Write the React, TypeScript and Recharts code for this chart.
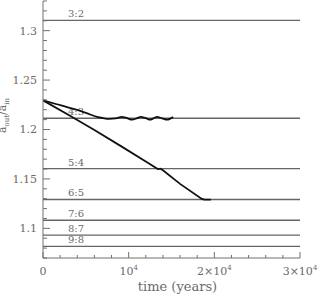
import { LineChart, Line, XAxis, YAxis, ReferenceLine } from "recharts";

// resonance locations (period ratio -> a_out/a_in)
const resonanceNames = ["3:2", "4:3", "5:4", "6:5", "7:6", "8:7", "9:8"];
const resonanceValues = [1.3104, 1.2114, 1.1604, 1.1292, 1.1082, 1.0931, 1.0817];

// run captured in 4:3
const upperTime = [0, 1500, 3000, 4500, 5500, 6300, 7000, 7700, 8500, 9200, 9800, 10400, 11000, 11400, 12000, 12500, 12900, 13300, 13900, 14500, 14900, 15200];
const upperRatio = [1.2295, 1.2258, 1.2222, 1.2183, 1.2152, 1.2128, 1.2116, 1.2108, 1.2112, 1.2127, 1.2115, 1.2099, 1.2115, 1.2127, 1.2115, 1.2099, 1.2113, 1.2127, 1.2113, 1.2099, 1.2112, 1.2125];

// run passing through 5:4 and captured in 6:5
const lowerTime = [0, 3000, 6000, 9000, 12000, 13400, 13700, 14000, 16000, 18500, 18800, 19600];
const lowerRatio = [1.2295, 1.2147, 1.1995, 1.1837, 1.1676, 1.16, 1.1604, 1.1587, 1.145, 1.13, 1.129, 1.129];

const xTicks = [0, 2000, 4000, 6000, 8000, 10000, 12000, 14000, 16000, 18000, 20000, 22000, 24000, 26000, 28000, 30000];
const yTicks = [1.07, 1.08, 1.09, 1.1, 1.11, 1.12, 1.13, 1.14, 1.15, 1.16, 1.17, 1.18, 1.19, 1.2, 1.21, 1.22, 1.23, 1.24, 1.25, 1.26, 1.27, 1.28, 1.29, 1.3, 1.31, 1.32, 1.33];

const upperData = upperTime.map((t, i) => ({ t, r: upperRatio[i] }));
const lowerData = lowerTime.map((t, i) => ({ t, r: lowerRatio[i] }));

const FONT = "'DejaVu Serif', serif";
const FRAME = "#707070";
const TEXT = "#6a6a6a";

const isMajorX = (v: number) => v % 10000 === 0;
const isMajorY = (v: number) => Math.round(v * 100) % 5 === 0;

function BottomTick({ x, y, payload }: any) {
  const v = payload.value;
  const major = isMajorX(v);
  let label: any = null;
  if (major) {
    const k = v / 10000;
    label = (
      <text x={x} y={y + 17} textAnchor="middle" fontFamily={FONT} fontSize={11} fill={TEXT}>
        {k === 0 ? "0" : k === 1 ? "10" : `${k}\u00d710`}
        {k > 0 && (
          <tspan dy={-5} fontSize={7}>
            4
          </tspan>
        )}
      </text>
    );
  }
  return (
    <g>
      <line x1={x} x2={x} y1={y} y2={y - (major ? 6 : 3)} stroke={FRAME} />
      {label}
    </g>
  );
}

function TopTick({ x, y, payload }: any) {
  const major = isMajorX(payload.value);
  return <line x1={x} x2={x} y1={y} y2={y + (major ? 6 : 3)} stroke={FRAME} />;
}

function LeftTick({ x, y, payload }: any) {
  const v = payload.value;
  const major = isMajorY(v);
  return (
    <g>
      <line x1={x} x2={x + (major ? 7 : 4)} y1={y} y2={y} stroke={FRAME} />
      {major && v < 1.33 && v > 1.07 && (
        <text x={x - 6} y={y} dy="0.35em" textAnchor="end" fontFamily={FONT} fontSize={11} fill={TEXT}>
          {String(Number(v.toFixed(2)))}
        </text>
      )}
    </g>
  );
}

function RightTick({ x, y, payload }: any) {
  const major = isMajorY(payload.value);
  return <line x1={x} x2={x - (major ? 7 : 4)} y1={y} y2={y} stroke={FRAME} />;
}

function YTitle({ viewBox }: any) {
  const cx = viewBox.x + 6;
  const cy = viewBox.y + viewBox.height / 2 - 14;
  return (
    <text x={cx} y={cy} transform={`rotate(-90 ${cx} ${cy})`} textAnchor="middle" fontFamily={FONT} fontSize={11} fill={TEXT}>
      a<tspan dy={3} fontSize={7}>out</tspan>
      <tspan dy={-3}>/a</tspan>
      <tspan dy={3} fontSize={7}>in</tspan>
    </text>
  );
}

function XTitle({ viewBox }: any) {
  return (
    <text x={viewBox.x + viewBox.width / 2 + 6} y={viewBox.y + 33} textAnchor="middle" fontFamily={FONT} fontSize={13} fill={TEXT}>
      time (years)
    </text>
  );
}

function ResonanceLabel(name: string) {
  return ({ viewBox }: any) => (
    <text x={viewBox.x + 25} y={viewBox.y - 3} fontFamily={FONT} fontSize={10} fill={TEXT}>
      {name}
    </text>
  );
}

export default function App() {
  return (
    <div style={{ position: "absolute", left: 0, top: 0, width: 319, height: 295, background: "#fff" }}>
      <LineChart width={319} height={295} margin={{ top: 1, right: 19, bottom: 0, left: 0 }}>
        <XAxis
          dataKey="t"
          type="number"
          domain={[0, 30000]}
          ticks={xTicks}
          interval={0}
          tickSize={0}
          tickMargin={0}
          height={37}
          stroke={FRAME}
          tick={<BottomTick />}
          label={<XTitle />}
          allowDataOverflow
        />
        <XAxis
          xAxisId="top"
          orientation="top"
          dataKey="t"
          type="number"
          domain={[0, 30000]}
          ticks={xTicks}
          interval={0}
          tickSize={0}
          tickMargin={0}
          height={0}
          stroke={FRAME}
          tick={<TopTick />}
          allowDataOverflow
        />
        <YAxis
          type="number"
          domain={[1.07, 1.33]}
          ticks={yTicks}
          interval={0}
          tickSize={0}
          tickMargin={0}
          width={43}
          stroke={FRAME}
          tick={<LeftTick />}
          label={<YTitle />}
          allowDataOverflow
        />
        <YAxis
          yAxisId="right"
          orientation="right"
          type="number"
          domain={[1.07, 1.33]}
          ticks={yTicks}
          interval={0}
          tickSize={0}
          tickMargin={0}
          width={0}
          stroke={FRAME}
          tick={<RightTick />}
          allowDataOverflow
        />
        {resonanceValues.map((v, i) => (
          <ReferenceLine key={resonanceNames[i]} y={v} stroke="#666" strokeWidth={1.3} label={ResonanceLabel(resonanceNames[i])} />
        ))}
        <Line data={upperData} dataKey="r" type="monotone" stroke="#111" strokeWidth={1.8} dot={false} isAnimationActive={false} />
        <Line data={lowerData} dataKey="r" type="linear" stroke="#111" strokeWidth={1.8} dot={false} isAnimationActive={false} />
      </LineChart>
    </div>
  );
}
